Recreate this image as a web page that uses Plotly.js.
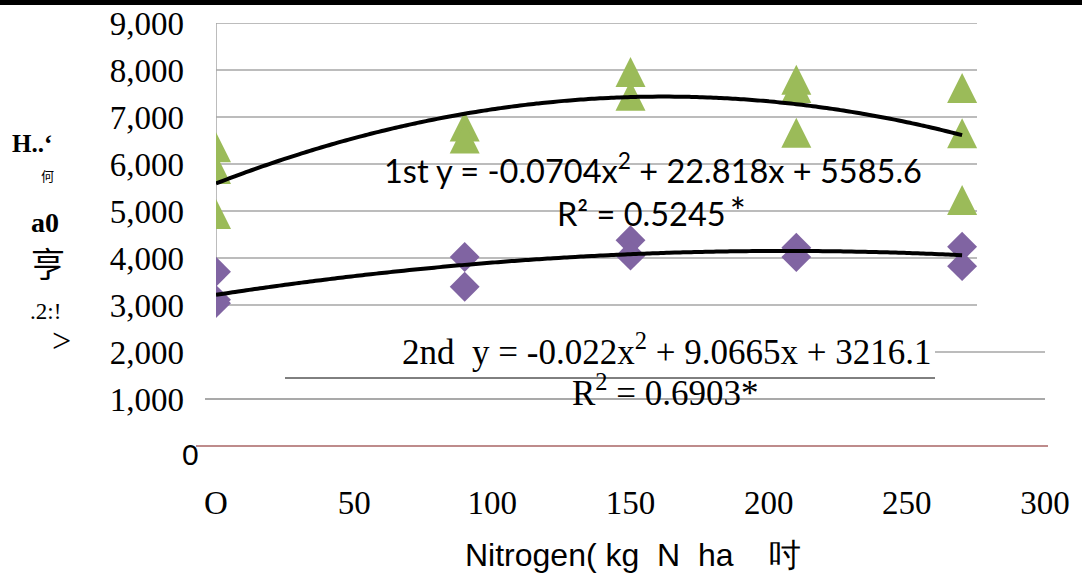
<!DOCTYPE html>
<html><head><meta charset="utf-8">
<script src="https://cdn.plot.ly/plotly-3.0.1.min.js"></script>
<style>html,body{margin:0;padding:0;background:#fff;}#chart{width:1082px;height:575px;}</style>
</head><body><div id="chart"></div>
<script>
// ---- data ----
const nitrogen1st = [0, 0, 0, 90, 90, 150, 150, 210, 210, 210, 270, 270, 270];
const yield1st    = [6355, 5892, 4934, 6798, 6542, 7956, 7452, 7792, 7615, 6667, 7615, 6656, 5236];
const nitrogen2nd = [0, 0, 0, 90, 90, 150, 150, 210, 210, 270, 270];
const yield2nd    = [3709, 3110, 3040, 4022, 3390, 4378, 4050, 4219, 4019, 4240, 3827];
// printed trendline coefficients [a, b, c] for y = a x^2 + b x + c
const coef1st = [-0.0704, 22.818, 5585.6];
const coef2nd = [-0.022, 9.0665, 3216.1];
const trendRange = [0, 270];
const xTickVals = [0, 50, 100, 150, 200, 250, 300];
const xTickText = ['O', '50', '100', '150', '200', '250', '300'];
const yTickVals = [1000, 2000, 3000, 4000, 5000, 6000, 7000, 8000, 9000];
const yTickText = ['1,000', '2,000', '3,000', '4,000', '5,000', '6,000', '7,000', '8,000', '9,000'];
const upperGrid = [3000, 4000, 5000, 6000, 7000, 8000, 9000];
const eq1Text = '1st y = -0.0704x<sup>2</sup> + 22.818x + 5585.6';
const r1Text = 'R² = 0.5245\u2009<span style="font-size:38px">*</span>';
const eq2Text = '2nd\u00a0\u00a0y = -0.022x<sup>2</sup> + 9.0665x + 3216.1';
const r2Text = 'R<sup>2</sup> = 0.6903*';
const xTitle = 'Nitrogen(\u00a0kg\u00a0\u00a0N\u00a0\u00a0ha\u00a0\u00a0\u00a0\u00a0吋';

// ---- layout helpers (pixel -> paper) ----
const L = 216, R = 37, T = 23, B = 95, W = 1082, H = 575;
const pw = W - L - R, ph = H - T - B;
const px = v => (v - L) / pw;
const py = v => (H - B - v) / ph;

function curve(c) {
  const xs = [], ys = [];
  for (let x = trendRange[0]; x <= trendRange[1]; x += 2) {
    xs.push(x); ys.push(c[0] * x * x + c[1] * x + c[2]);
  }
  return {xs, ys};
}
const c1 = curve(coef1st), c2 = curve(coef2nd);

const GREEN = '#9BBB59', PURPLE = '#8064A2', GRID = '#A6A6A6';

const traces = [
  {x: nitrogen2nd, y: yield2nd, type: 'scatter', mode: 'markers', name: '2nd',
   marker: {symbol: 'diamond', size: 23, color: PURPLE, line: {width: 0}}},
  {x: nitrogen1st, y: yield1st, type: 'scatter', mode: 'markers', name: '1st',
   marker: {symbol: 'arrow-down', angle: 180, standoff: 15, size: 30, color: GREEN, line: {width: 0}}},
  {x: c1.xs, y: c1.ys, type: 'scatter', mode: 'lines', line: {color: '#000', width: 4, shape: 'spline'}, hoverinfo: 'skip'},
  {x: c2.xs, y: c2.ys, type: 'scatter', mode: 'lines', line: {color: '#000', width: 4, shape: 'spline'}, hoverinfo: 'skip'}
];

const shapes = [];
shapes.push({type: 'rect', xref: 'paper', yref: 'paper', x0: px(0), x1: px(W), y0: py(0), y1: py(5), fillcolor: '#000', line: {width: 0}, layer: 'above'});
upperGrid.forEach(v => shapes.push({type: 'line', xref: 'paper', yref: 'y', x0: px(216), x1: px(977), y0: v, y1: v, line: {color: GRID, width: 1.5}, layer: 'below'}));
shapes.push({type: 'line', xref: 'paper', yref: 'y', x0: px(935), x1: px(1045), y0: 2000, y1: 2000, line: {color: GRID, width: 1.5}, layer: 'below'});
shapes.push({type: 'line', xref: 'paper', yref: 'y', x0: px(205), x1: px(1045), y0: 1000, y1: 1000, line: {color: '#8C8C8C', width: 1.5}, layer: 'below'});
shapes.push({type: 'line', xref: 'paper', yref: 'y', x0: px(196), x1: px(1048), y0: 0, y1: 0, line: {color: '#A86464', width: 1.3}, layer: 'below'});
shapes.push({type: 'line', xref: 'x', yref: 'y', x0: 0, x1: 0, y0: 2750, y1: 9000, line: {color: GRID, width: 1.5}, layer: 'below'});
shapes.push({type: 'line', xref: 'paper', yref: 'paper', x0: px(285), x1: px(935), y0: py(378), y1: py(378), line: {color: '#000', width: 1}, layer: 'above'});

const SERIF = 'Liberation Serif, Times New Roman, serif';
const SANS = 'Liberation Sans, Arial, sans-serif';
const CJK = 'Noto Sans CJK SC, sans-serif';
function ann(text, x, y, font, extra) {
  return Object.assign({text, xref: 'paper', yref: 'paper', x: px(x), y: py(y), showarrow: false,
    xanchor: 'center', yanchor: 'middle', font: Object.assign({color: '#000'}, font)}, extra || {});
}
const annotations = [
  ann(eq1Text, 653, 169, {family: 'Lato, sans-serif', size: 32.5}),
  ann(r1Text, 651, 211, {family: 'Lato, sans-serif', size: 32.5}),
  ann(eq2Text, 666, 349, {family: SERIF, size: 35}),
  ann(r2Text, 665, 390, {family: SERIF, size: 35}),
  ann('0', 190, 454, {family: SANS, size: 30}),
  ann('H..‘', 32, 143, {family: SERIF, size: 25, weight: 'bold'}),
  ann('何', 47, 175, {family: CJK, size: 13}),
  ann('a0', 45, 222, {family: SERIF, size: 28, weight: 'bold'}),
  ann('亨', 48, 262, {family: CJK, size: 34}),
  ann('.2:!', 45, 311, {family: SERIF, size: 23}),
  ann('>', 61, 340, {family: SERIF, size: 34}),
  ann(xTitle, 463, 555, {family: SANS, size: 32}, {xanchor: 'left'})
];

const layout = {
  width: W, height: H,
  margin: {l: L, r: R, t: T, b: B, pad: 0},
  paper_bgcolor: '#fff', plot_bgcolor: '#fff',
  showlegend: false,
  xaxis: {range: [0, 300], tickvals: xTickVals, ticktext: xTickText, showgrid: false, zeroline: false,
          showline: false, ticks: '', tickfont: {family: SERIF, size: 33, color: '#000'}},
  yaxis: {range: [-723, 9000], tickvals: yTickVals, ticktext: yTickText, showgrid: false, zeroline: false,
          showline: false, ticks: '', ticklabelstandoff: 31, tickfont: {family: SERIF, size: 33, color: '#000'}},
  shapes, annotations
};
Plotly.newPlot('chart', traces, layout, {displayModeBar: false, staticPlot: true});
</script></body></html>
